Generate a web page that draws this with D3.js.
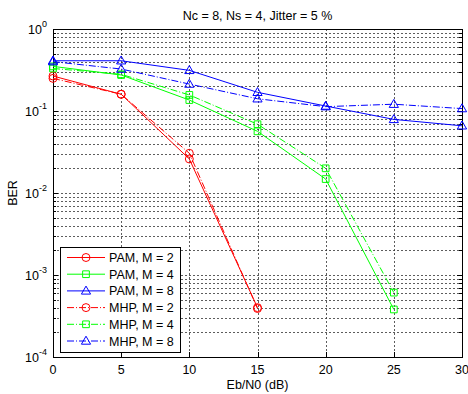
<!DOCTYPE html>
<html>
<head>
<meta charset="utf-8">
<script src="https://cdn.jsdelivr.net/npm/d3@7"></script>
<style>
  body { margin: 0; background: #fff; }
  text { font-family: "Liberation Sans", Arial, sans-serif; }
</style>
</head>
<body>
<div id="chart"></div>
<script>
// x values (Eb/N0 in dB)
const ebno = [0, 5, 10, 15, 20, 25, 30];

// BER series
const pamM2 = [0.267, 0.16, 0.026, 0.0004];
const pamM4 = [0.35, 0.275, 0.136, 0.0565, 0.0148, 0.00038];
const pamM8 = [0.41, 0.41, 0.313, 0.169, 0.115, 0.079, 0.066];
const mhpM2 = [0.25, 0.16, 0.0305, 0.00039];
const mhpM4 = [0.33, 0.28, 0.157, 0.069, 0.020, 0.00061];
const mhpM8 = [0.40, 0.325, 0.213, 0.141, 0.113, 0.121, 0.107];

const xTicks = [0, 5, 10, 15, 20, 25, 30];
const yDecades = [0, -1, -2, -3, -4];

const series = [
  { name: "PAM, M = 2", vals: pamM2, color: "#ff0000", marker: "circle", dash: null },
  { name: "PAM, M = 4", vals: pamM4, color: "#00ff00", marker: "square", dash: null },
  { name: "PAM, M = 8", vals: pamM8, color: "#0000ff", marker: "triangle", dash: null },
  { name: "MHP, M = 2", vals: mhpM2, color: "#ff0000", marker: "circle", dash: "7,2,1,2" },
  { name: "MHP, M = 4", vals: mhpM4, color: "#00ff00", marker: "square", dash: "7,2,1,2" },
  { name: "MHP, M = 8", vals: mhpM8, color: "#0000ff", marker: "triangle", dash: "7,2,1,2" }
];

const W = 468, H = 394;
const margin = { top: 29, right: 6, bottom: 37, left: 53 };
const width = W - margin.left - margin.right;
const height = H - margin.top - margin.bottom;
const fs = 12.5;

const svg = d3.select("#chart").append("svg")
  .attr("width", W).attr("height", H);

const g = svg.append("g")
  .attr("transform", `translate(${margin.left},${margin.top})`);

const x = d3.scaleLinear().domain([0, 30]).range([0, width]);
const y = d3.scaleLog().domain([1e-4, 1]).range([height, 0]);

g.append("rect").attr("width", width).attr("height", height).attr("fill", "#fff");

// grid lines (dotted, MATLAB style)
const minorVals = [];
for (let e = -4; e < 0; e++) {
  for (let k = 1; k <= 9; k++) minorVals.push(k * Math.pow(10, e));
}
minorVals.push(1);

g.selectAll(".ygrid").data(minorVals).enter().append("line")
  .attr("x1", 0).attr("x2", width)
  .attr("y1", d => Math.round(y(d)) + 0.5).attr("y2", d => Math.round(y(d)) + 0.5)
  .attr("stroke", "#333").attr("stroke-width", 0.8)
  .attr("stroke-dasharray", "2,2");

g.selectAll(".xgrid").data(xTicks).enter().append("line")
  .attr("x1", d => Math.round(x(d)) + 0.5).attr("x2", d => Math.round(x(d)) + 0.5)
  .attr("y1", 0).attr("y2", height)
  .attr("stroke", "#333").attr("stroke-width", 0.8)
  .attr("stroke-dasharray", "2,2");

// tick marks inside the box
const isMajor = d => Math.abs(Math.log10(d) - Math.round(Math.log10(d))) < 1e-9;
g.selectAll(".ytickL").data(minorVals).enter().append("line")
  .attr("x1", 0).attr("x2", d => isMajor(d) ? 5 : 3)
  .attr("y1", d => Math.round(y(d)) + 0.5).attr("y2", d => Math.round(y(d)) + 0.5)
  .attr("stroke", "#000");
g.selectAll(".ytickR").data(minorVals).enter().append("line")
  .attr("x1", width).attr("x2", d => width - (isMajor(d) ? 5 : 3))
  .attr("y1", d => Math.round(y(d)) + 0.5).attr("y2", d => Math.round(y(d)) + 0.5)
  .attr("stroke", "#000");
g.selectAll(".xtickB").data(xTicks).enter().append("line")
  .attr("x1", d => Math.round(x(d)) + 0.5).attr("x2", d => Math.round(x(d)) + 0.5)
  .attr("y1", height).attr("y2", height - 5)
  .attr("stroke", "#000");

// box
g.append("rect").attr("x", 0.5).attr("y", 0.5)
  .attr("width", width).attr("height", height)
  .attr("fill", "none").attr("stroke", "#000").attr("stroke-width", 1);

// x tick labels
g.selectAll(".xlab").data(xTicks).enter().append("text")
  .attr("x", d => x(d)).attr("y", height + 17)
  .attr("text-anchor", "middle").attr("font-size", fs)
  .text(d => d);

// y tick labels 10^n
const yl = g.selectAll(".ylab").data(yDecades).enter().append("text")
  .attr("x", -6).attr("y", d => y(Math.pow(10, d)) + 5)
  .attr("text-anchor", "end").attr("font-size", fs);
yl.append("tspan").text("10");
yl.append("tspan").attr("dy", -7).attr("font-size", 9).text(d => d);

// lines and markers
const line = d3.line()
  .x(d => x(d[0])).y(d => y(d[1]));

const markerPath = {
  circle: d3.symbol(d3.symbolCircle, 50)(),
  square: d3.symbol(d3.symbolSquare, 45)(),
  triangle: "M0,-4.8L4.6,3.2L-4.6,3.2Z"
};

series.forEach(s => {
  const pts = s.vals.map((v, i) => [ebno[i], v]);
  g.append("path").datum(pts)
    .attr("d", line)
    .attr("fill", "none").attr("stroke", s.color).attr("stroke-width", 1)
    .attr("stroke-dasharray", s.dash);
  g.selectAll(null).data(pts).enter().append("path")
    .attr("transform", d => `translate(${x(d[0])},${y(d[1])})`)
    .attr("d", markerPath[s.marker])
    .attr("fill", "none").attr("stroke", s.color).attr("stroke-width", 1);
});

// legend
const lg = g.append("g").attr("transform", "translate(7,218)");
lg.append("rect").attr("x", 0.5).attr("y", 0.5).attr("width", 120).attr("height", 105)
  .attr("fill", "#fff").attr("stroke", "#000");
const items = lg.selectAll(".item").data(series).enter().append("g")
  .attr("transform", (d, i) => `translate(0,${10.5 + i * 16.7})`);
items.append("line").attr("x1", 7).attr("x2", 45).attr("y1", 0).attr("y2", 0)
  .attr("stroke", d => d.color).attr("stroke-dasharray", d => d.dash);
items.append("path").attr("transform", "translate(26,0)")
  .attr("d", d => markerPath[d.marker])
  .attr("fill", "none").attr("stroke", d => d.color);
items.append("text").attr("x", 49).attr("y", 4.5)
  .attr("font-size", fs).text(d => d.name);

// title and axis labels
svg.append("text").attr("x", margin.left + width / 2).attr("y", 20)
  .attr("text-anchor", "middle").attr("font-size", fs)
  .text("Nc = 8, Ns = 4, Jitter = 5 %");

svg.append("text").attr("x", margin.left + width / 2).attr("y", 389)
  .attr("text-anchor", "middle").attr("font-size", fs)
  .text("Eb/N0 (dB)");

svg.append("text")
  .attr("transform", `translate(17,${margin.top + height / 2}) rotate(-90)`)
  .attr("text-anchor", "middle").attr("font-size", fs)
  .text("BER");
</script>
</body>
</html>
